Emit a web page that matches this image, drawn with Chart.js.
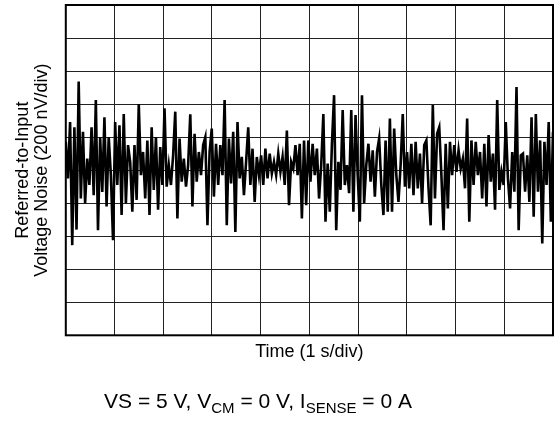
<!DOCTYPE html>
<html>
<head>
<meta charset="utf-8">
<script src="https://cdn.jsdelivr.net/npm/chart.js@4.4.1/dist/chart.umd.min.js"></script>
<style>
  html,body{margin:0;padding:0;background:#fff;}
  #wrap{position:relative;width:555px;height:433px;}
</style>
</head>
<body>
<div id="wrap"><canvas id="noise"></canvas></div>
<script>
/* Noise trace in vertical divisions (200 nV/div) */
const NOISE = [
  0.86,-0.25,1.46,-2.27,1.3,-1.8,2.68,-0.86,1.16,-1.0,0.35,-0.45,1.3,-0.76,2.12,-1.82,1.0,-0.66,1.6,-1.1,
  1.0,-0.15,-2.12,1.46,-0.45,1.36,-1.36,1.7,-1.0,0.76,0.25,-1.26,0.76,-0.9,2.0,-0.15,
  0.55,-0.86,0.9,-1.36,1.3,-0.6,1.0,-1.2,0.7,-0.45,1.87,-0.5,0.15,-0.45,0.45,1.77,-1.46,0.96,-0.35,0.35,
  -0.5,0.15,1.69,-1.1,1.1,-0.35,0.55,-0.15,0.76,1.0,-1.67,0.55,1.26,-0.8,0.8,-0.45,0.76,
  -0.15,2.12,-1.67,0.96,-0.4,1.16,-1.87,1.46,-0.25,0.4,-0.76,0.25,1.3,-0.45,0.65,-0.96,0.4,-0.15,0.45,
  -0.45,0.65,-0.25,0.5,-0.1,0.25,-0.15,0.5,-0.05,0.4,-0.45,1.2,-1.06,0.25,0.05,0.76,-0.15,0.8,-1.46,
  0.9,-1.06,0.9,-0.35,0.8,-0.15,0.65,-0.86,0.15,1.7,-1.56,0.2,-1.26,0.8,2.27,-1.82,0.25,-0.6,1.82,-0.45,
  0.15,-0.7,1.82,-1.26,1.67,-0.15,-1.56,2.27,-1.0,0.15,0.8,-0.35,0.6,-0.8,0.55,0.96,-0.45,-1.36,0.9,
  -1.26,1.56,-1.26,1.26,-0.15,-0.96,0.15,1.7,-0.5,0.55,-0.55,0.8,-0.76,0.86,-0.55,0.5,-1.0,0.76,0.9,
  -0.55,-1.67,1.97,-0.86,1.1,1.3,-0.15,-1.82,0.8,-1.16,0.86,-0.15,0.76,-0.05,0.6,0.05,0.35,-0.55,1.56,
  -1.56,0.9,-0.45,0.86,-0.15,0.55,-0.86,0.8,-1.1,1.06,-0.35,0.5,-1.2,2.12,-0.6,-0.05,-0.45,1.46,-0.25,
  -1.16,0.55,-0.65,2.52,-1.82,0.45,0.5,-0.65,0.45,-0.96,1.6,-1.41,1.7,-0.65,0.9,-2.22,0.86,-0.45,1.46,
  -1.56,1.16
];
const X_DIVS = 10;          // time axis: 10 divisions, 1 s/div
const Y_DIVS = [-5, 5];     // noise axis: ±5 divisions
const Y_TITLE = ['Referred-to-Input', 'Voltage Noise (200 nV/div)'];
const X_TITLE = 'Time (1 s/div)';

const FONT = '"Liberation Sans", Arial, Helvetica, sans-serif';
const pts = NOISE.map((v,i)=>({ x: i*X_DIVS/(NOISE.length-1), y: v }));

/* frame round the plot + test conditions line */
const framePlugin = {
  id:'frame',
  afterDatasetsDraw(chart){
    const {ctx, chartArea:a} = chart;
    ctx.save();
    ctx.strokeStyle = '#000'; ctx.lineWidth = 2;
    ctx.strokeRect(a.left, a.top, a.right-a.left, a.bottom-a.top);
    ctx.restore();
  },
  afterDraw(chart){
    const ctx = chart.ctx;
    const parts = [
      ['VS = 5 V, V',0],['CM',1],[' = 0 V, I',0],['SENSE',1],[' = 0 A',0]
    ];
    ctx.save();
    ctx.fillStyle = '#000'; ctx.textBaseline = 'alphabetic';
    let w = 0;
    parts.forEach(([t,sub])=>{ ctx.font = (sub?'15px ':'21px ')+FONT; w += ctx.measureText(t).width; });
    let x = 258 - w/2, y = 408;
    parts.forEach(([t,sub])=>{
      ctx.font = (sub?'15px ':'21px ')+FONT;
      ctx.fillText(t, x, sub ? y+5 : y);
      x += ctx.measureText(t).width;
    });
    ctx.restore();
  }
};

new Chart(document.getElementById('noise'), {
  type:'line',
  data:{ datasets:[{ data:pts, borderColor:'#000', borderWidth:2.6, pointRadius:0, tension:0, fill:false }] },
  options:{
    responsive:true, maintainAspectRatio:false, animation:false,
    layout:{ padding:{ left:14, right:2, top:5, bottom:71 } },
    plugins:{ legend:{display:false}, tooltip:{enabled:false} },
    scales:{
      x:{ type:'linear', min:0, max:X_DIVS,
          ticks:{ display:false, stepSize:1 },
          grid:{ color:'#222', lineWidth:1, drawTicks:false },
          border:{ display:false },
          title:{ display:true, text:X_TITLE, color:'#000', font:{ family:FONT, size:18, lineHeight:1.15 }, padding:{top:6,bottom:0} } },
      y:{ min:Y_DIVS[0], max:Y_DIVS[1],
          ticks:{ display:false, stepSize:1 },
          grid:{ color:'#222', lineWidth:1, drawTicks:false },
          border:{ display:false },
          title:{ display:true, text:Y_TITLE, color:'#000', font:{ family:FONT, size:18, lineHeight:1.05 }, padding:{top:0,bottom:14} } }
    }
  },
  plugins:[framePlugin]
});
</script>
</body>
</html>
